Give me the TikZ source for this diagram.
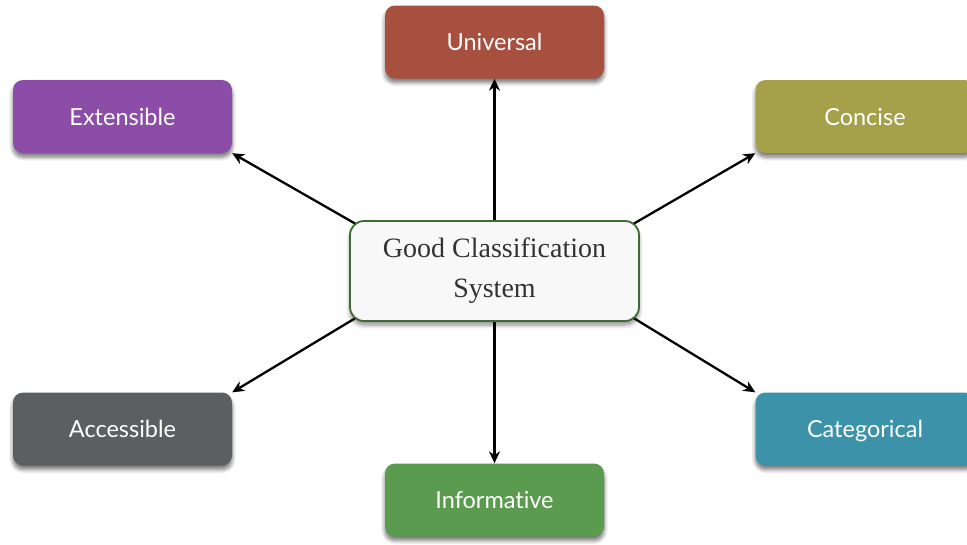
\documentclass[tikz,border=0pt]{standalone}
\usepackage{fontspec}
\setmainfont{Liberation Serif}
\newfontfamily\boxfont[Ligatures=NoCommon]{Lato}
\usetikzlibrary{arrows.meta,shadows.blur,backgrounds,calc}
\definecolor{cUni}{HTML}{A8503F}
\definecolor{cExt}{HTML}{8C4DA8}
\definecolor{cCon}{HTML}{A5A04A}
\definecolor{cAcc}{HTML}{5D5E62}
\definecolor{cInf}{HTML}{5A9B50}
\definecolor{cCat}{HTML}{3B92A9}
\definecolor{cBorder}{HTML}{3E6B35}
\definecolor{cFill}{HTML}{F8F8F8}
\begin{document}
\begin{tikzpicture}[x=1pt,y=-1pt,
  tag/.style={rounded corners=10pt, minimum width=219pt, minimum height=73pt,
    inner sep=0pt, text=white, text height=17pt, text depth=0pt,
    font=\boxfont\fontsize{23.5}{28}\selectfont,
    blur shadow={shadow xshift=0pt, shadow yshift=-4pt, shadow opacity=55,
      shadow blur steps=6, shadow blur radius=4pt}},
  hub/.style={rounded corners=14pt, minimum width=289pt, minimum height=100pt,
    fill=cFill, draw=cBorder, line width=1.8pt, align=center,
    text=black!80, font=\fontsize{28}{40}\selectfont,
    blur shadow={shadow xshift=0pt, shadow yshift=-4pt, shadow opacity=45,
      shadow blur steps=6, shadow blur radius=4pt}},
  link/.style={draw, line width=2.3pt, -{Stealth[length=12pt,width=11pt]}}]
\useasboundingbox (0,0) rectangle (967,544);
\node[tag, fill=cUni] (uni) at (494.5,42) {Universal};
\node[tag, fill=cExt] (ext) at (122.5,116.5) {Extensible};
\node[tag, fill=cCon] (con) at (865,116.5) {Concise};
\node[tag, fill=cAcc] (acc) at (122.5,429) {Accessible};
\node[tag, fill=cInf] (inf) at (494.5,500) {Informative};
\node[tag, fill=cCat] (cat) at (865,429) {Categorical};
\node[hub] (c) at (494.5,271) {Good Classification\\System};
\begin{scope}[on background layer]
\draw[link] (c.north) -- (uni.south);
\draw[link] (c.south) -- (inf.north);
\draw[link] ($(c.north west)!-0.1!(ext.south east)$) -- (ext.south east);
\draw[link] ($(c.north east)!-0.1!(con.south west)$) -- (con.south west);
\draw[link] ($(c.south west)!-0.1!(acc.north east)$) -- (acc.north east);
\draw[link] ($(c.south east)!-0.1!(cat.north west)$) -- (cat.north west);
\end{scope}
\end{tikzpicture}
\end{document}
